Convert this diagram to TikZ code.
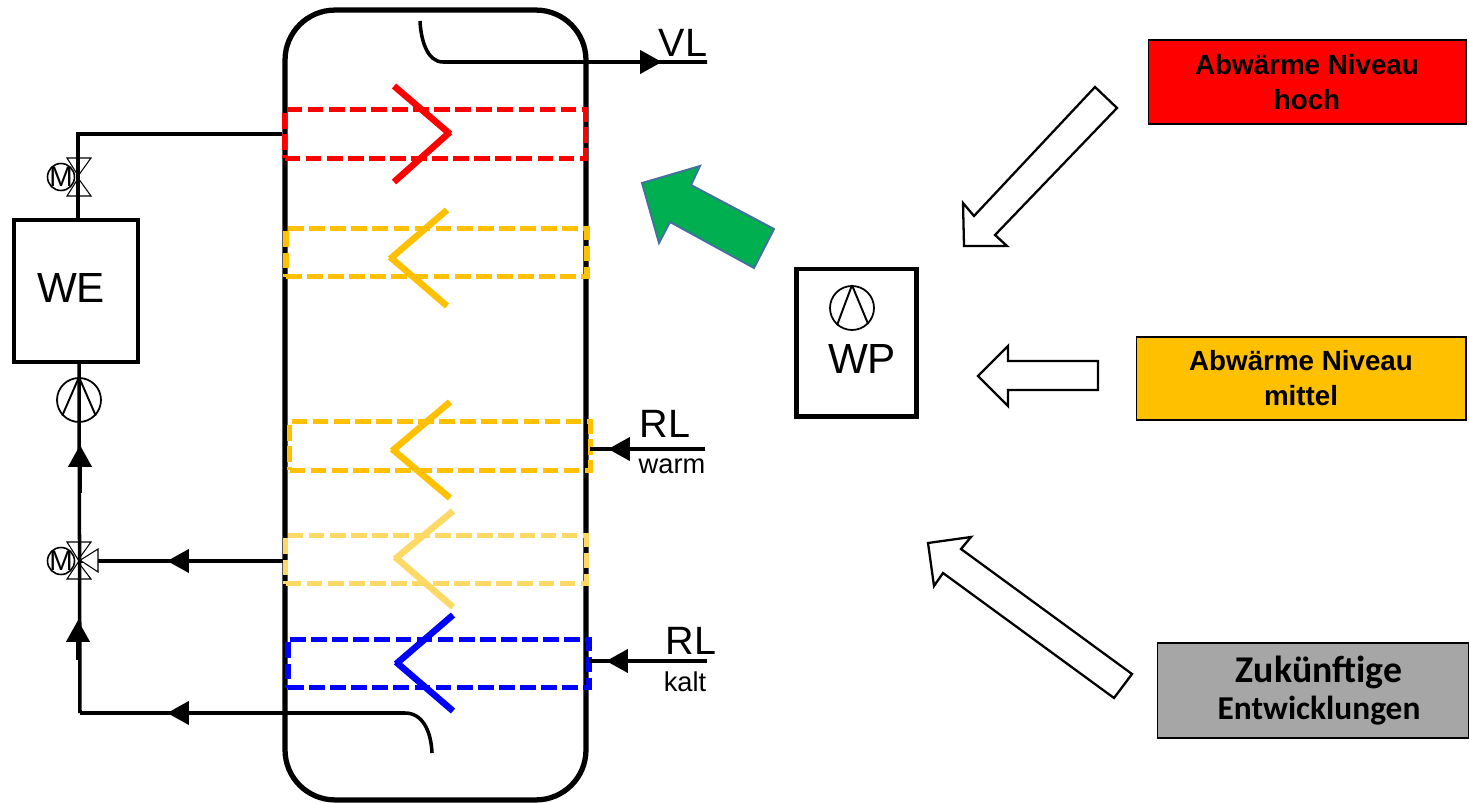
\documentclass[tikz,border=0pt]{standalone}
\usepackage{fontspec}
\setmainfont{Liberation Sans}
\newfontfamily\calibrifont{Carlito}
\usetikzlibrary{arrows.meta}
\definecolor{levelhigh}{HTML}{FF0000}
\definecolor{levelmid}{HTML}{FFC000}
\definecolor{levellow}{HTML}{FFD966}
\definecolor{levelcold}{HTML}{0000FF}
\definecolor{levelfuture}{HTML}{A6A6A6}
\definecolor{heatgreen}{HTML}{00B050}
\definecolor{heatedge}{HTML}{41719C}
\tikzstyle{tank} = [rectangle, draw=black, line width=3pt, rounded corners=1cm, minimum width=6.02cm, minimum height=15.8cm]
\tikzstyle{unit} = [rectangle, draw=black, line width=2.8pt, font=\fontsize{24}{28}\selectfont]
\tikzstyle{zone} = [rectangle, dash pattern=on 9pt off 3pt, line width=3pt, minimum width=6.02cm, minimum height=0.97cm]
\tikzstyle{chevron} = [line width=3.7pt]
\tikzstyle{pipe} = [line width=2pt]
\tikzstyle{pipearrow} = [line width=2.6pt,-{Triangle[length=12.5pt,width=13pt]}]
\tikzstyle{sourcebox} = [rectangle, draw=black, line width=0.6pt, align=center, font=\bfseries\fontsize{15.8}{20}\selectfont]
\tikzstyle{blockarrow} = [draw=black, line width=1.3pt, line join=miter, fill=white]
\tikzstyle{motor} = [circle, draw=black, line width=0.9pt, inner sep=0pt, minimum size=0.54cm, font=\fontsize{16}{16}\selectfont]
\tikzstyle{pump} = [circle, draw=black, line width=1pt, inner sep=0pt, minimum size=0.88cm]
\tikzstyle{pumpleg} = [line width=1.1pt]
\tikzstyle{valvebody} = [line width=0.6pt]
\tikzstyle{biglabel} = [inner sep=0pt, font=\fontsize{22.5}{24}\selectfont]
\tikzstyle{smalllabel} = [inner sep=0pt, font=\fontsize{15.5}{18}\selectfont]
\begin{document}
\begin{tikzpicture}[x=0.02cm,y=-0.02cm,node distance=0.36cm]
\useasboundingbox (0,0) rectangle (1469,803);

% storage tank and its zones
\node (store) [tank] at (435.5,405) {};
\node (zoneRed) [zone, draw=levelhigh] at (435,134) {};
\node (zoneMidTop) [zone, draw=levelmid] at (436.5,252.5) {};
\node (zoneMidLow) [zone, draw=levelmid] at (440,446) {};
\node (zoneLight) [zone, draw=levellow] at (436,559.5) {};
\node (zoneBlue) [zone, draw=levelcold] at (438.5,663.5) {};
\draw [chevron, levelhigh] (394,86) -- (450,134) (450,132) -- (394,182);
\draw [chevron, levelmid] (447,210) -- (390,259) (390,257) -- (447,306);
\draw [chevron, levelmid] (450,402) -- (392,451) (392,449) -- (450,498);
\draw [chevron, levellow] (453,511) -- (395,559) (395,557) -- (453,607);
\draw [chevron, levelcold] (453,615) -- (396,664) (396,662) -- (453,711);

% units on the left
\node (we) [unit, minimum width=2.48cm, minimum height=2.84cm] at (76,291) {};
\node (weText) [inner sep=0pt, font=\fontsize{24}{28}\selectfont] at (71,288) {WE};
\node (pumpWe) [pump] at (79,400) {};
\node (valveTop) [inner sep=0pt] at (79,177) {};
\node (motorTop) [motor, left of=valveTop] {\makebox[0pt]{M}};
\node (valveMix) [inner sep=0pt] at (79,561) {};
\node (motorMix) [motor, left of=valveMix] {\makebox[0pt]{M}};
\coordinate (bottomCorner) at (80,713);
\coordinate (topCorner) at (78,134);
\coordinate (weEntry) at (78,218);

% pipes
\draw [pipe] (zoneRed.west) -- (topCorner) -- (weEntry);
\draw [pipe] (79,362) -- (bottomCorner);
\draw [pipe] (zoneLight.west |- valveMix) -- (valveMix);
\draw [pipe] (432,753) .. controls (431,730) and (422,713) .. (405,713) -- (bottomCorner);
\draw [pipe] (420,21) .. controls (421,42) and (428,62) .. (443,62) -- (707,62);
\draw [pipe] (705,449) -- (590,449);
\draw [pipe] (707,661) -- (589,661);

% flow arrows
\draw [pipearrow] (80,493) -- (80,445);
\draw [pipearrow] (78,660) -- (78,620);
\draw [pipearrow] (207,561) -- (167,561);
\draw [pipearrow] (222,713) -- (167,713);
\draw [pipearrow] (620,62) -- (662,62);
\draw [pipearrow] (640,449) -- (608,449);
\draw [pipearrow] (640,661) -- (606,661);

% valves and pumps
\draw [valvebody] (valveTop) -- ++(-12,-19) -- ++(24,0) -- cycle;
\draw [valvebody] (valveTop) -- ++(-12,19) -- ++(24,0) -- cycle;
\draw [valvebody] (valveMix) -- ++(-12,-19) -- ++(24,0) -- cycle;
\draw [valvebody] (valveMix) -- ++(-12,18) -- ++(24,0) -- cycle;
\draw [valvebody, fill=white] (valveMix) -- ++(19,-12) -- ++(0,23) -- cycle;
\draw [pumpleg] (pumpWe.north) -- (pumpWe.-137);
\draw [pumpleg] (pumpWe.north) -- (pumpWe.-43);

% heat pump
\node (wp) [unit, minimum width=2.4cm, minimum height=2.95cm] at (856.5,342.75) {};
\node (pumpWp) [pump] at (852,308) {};
\node (wpText) [inner sep=0pt, font=\fontsize{24}{28}\selectfont] at (862,359) {WP};
\draw [pumpleg] (pumpWp.north) -- (pumpWp.-131);
\draw [pumpleg] (pumpWp.north) -- (pumpWp.-45);

% pipe labels
\node (vlText) [biglabel] at (683,43) {VL};
\node (rlWarm) [biglabel] at (665,424) {RL};
\node (warmText) [smalllabel] at (672,466) {warm};
\node (rlKalt) [biglabel] at (691,641) {RL};
\node (kaltText) [smalllabel] at (685,682) {kalt};

% waste heat sources
\node (srcHigh) [sourcebox, fill=levelhigh, minimum width=6.36cm, minimum height=1.68cm] at (1307,82) {Abwärme Niveau\\hoch};
\node (srcMid) [sourcebox, fill=levelmid, minimum width=6.6cm, minimum height=1.66cm] at (1301,378.5) {Abwärme Niveau\\mittel};
\node (srcFuture) [sourcebox, fill=levelfuture, minimum width=6.24cm, minimum height=1.9cm, font=\calibrifont\bfseries] at (1313,690.5) {\fontsize{21.5}{21.5}\selectfont\hspace*{0.24cm}Zukünftige\\[3pt]\fontsize{19}{21}\selectfont\hspace*{0.24cm}Entwicklungen};

% block arrows
\draw [blockarrow] (1095,87) -- (1117,108) -- (995,235) -- (1007,246) -- (964,246) -- (963,203) -- (974,216) -- cycle;
\draw [blockarrow] (978,376) -- (1008,346) -- (1008,361) -- (1098,361) -- (1098,390) -- (1008,390) -- (1008,406) -- cycle;
\draw [blockarrow] (928,543) -- (971,537) -- (961,549) -- (1132,674) -- (1114,698) -- (943,573) -- (934,586) -- cycle;
\draw [draw=heatedge, line width=1.1pt, fill=heatgreen] (642,183) -- (700,166) -- (691,185) -- (774,229) -- (754,268) -- (670,222) -- (659,243) -- cycle;
\end{tikzpicture}
\end{document}
